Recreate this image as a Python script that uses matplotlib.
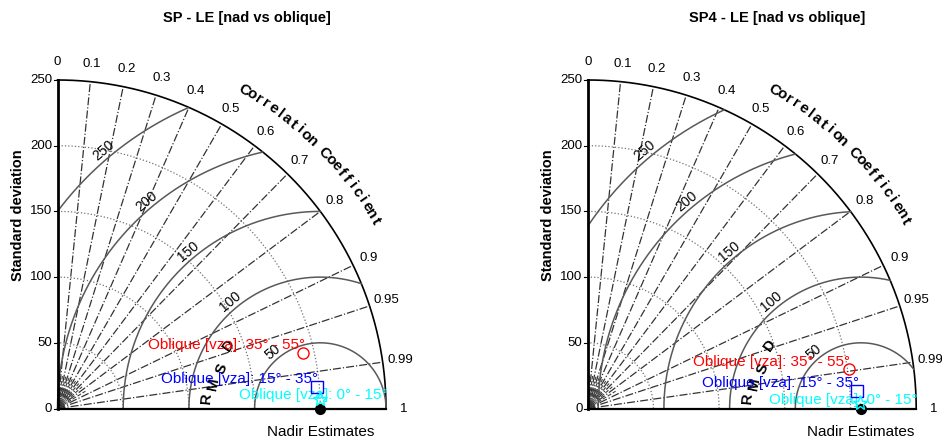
import numpy as np
import matplotlib.pyplot as plt

plt.rcParams['font.family'] = ['Liberation Sans', 'DejaVu Sans']

# ---- data ----
titles = ['SP - LE [nad vs oblique]', 'SP4 - LE [nad vs oblique]']
ref_std = [200, 208]          # nadir estimates (reference)
series_names = ['Oblique [vza]: 35° - 55°',
                'Oblique [vza]: 15° - 35°',
                'Oblique [vza]: 0° - 15°']
std_left = [191.8, 198.0, 199.9]
corr_left = [0.9756, 0.9965, 0.9993]
std_right = [200.7, 205.6, 207.2]
corr_right = [0.989, 0.9978, 0.9998]

std_ticks = [0, 50, 100, 150, 200, 250]
corr_ticks = [0, 0.1, 0.2, 0.3, 0.4, 0.5, 0.6, 0.7, 0.8, 0.9, 0.95, 0.99, 1]
rms_ticks = [50, 100, 150, 200, 250]
rmax = 250

colors = ['red', 'blue', 'cyan']
markers = ['o', 's', '*']

# pixel layout
W, H = 942, 440
scale = 1.314                   # px per std unit
origins = [(57.5, 408.5), (587.7, 408.5)]
xlim = (-43, 268)
ylim = (-23, 305)

fig = plt.figure(figsize=(W / 100, H / 100), dpi=100)


def draw_taylor(ax, ref, stds, corrs, title):
    th = np.linspace(0, np.pi / 2, 300)
    # std circles
    for s in std_ticks[1:-1]:
        ax.plot(s * np.cos(th), s * np.sin(th), ls=':', color='0.45', lw=0.9)
    ax.plot(rmax * np.cos(th), rmax * np.sin(th), color='k', lw=1.2)
    # correlation lines
    for c in corr_ticks[1:-1]:
        a = np.arccos(c)
        ax.plot([0, rmax * np.cos(a)], [0, rmax * np.sin(a)],
                ls='-.', color='0.2', lw=0.9)
    for c in np.arange(0.05, 0.9, 0.1):
        a = np.arccos(c)
        ax.plot([0, 25 * np.cos(a)], [0, 25 * np.sin(a)],
                ls='--', color='0.25', lw=0.8)
    # RMSD circles around the reference
    t = np.linspace(0, np.pi, 800)
    for r in rms_ticks:
        x = ref + r * np.cos(t)
        y = r * np.sin(t)
        bad = (x < 0) | (x ** 2 + y ** 2 > rmax ** 2)
        x[bad] = np.nan
        y[bad] = np.nan
        ax.plot(x, y, color='0.35', lw=1.1)
        a = np.deg2rad(130)
        ax.text(ref + (r + 6) * np.cos(a), (r + 6) * np.sin(a), str(r),
                rotation=40, ha='center', va='center', fontsize=10)
    # RMSD letters
    offs = [(-86.5, 8), (-81.4, 18.5), (-75, 30.5), (-69.5, 48.3)]
    rots = [85, 78, 68, 55]
    for ch, (dx, dy), rt in zip('RMSD', offs, rots):
        ax.text(ref + dx, dy, ch, rotation=rt, ha='center', va='center',
                fontsize=11, fontweight='bold')
    # axes lines
    ax.plot([0, 0], [0, rmax], color='k', lw=2)
    ax.plot([0, rmax], [0, 0], color='k', lw=1.6)
    # std tick labels
    for s in std_ticks:
        ax.text(-4, s, str(s), ha='right', va='center', fontsize=9.5)
        ax.plot([-2.5, 0], [s, s], color='k', lw=0.8)
    # correlation tick labels
    for c in corr_ticks:
        a = np.arccos(c)
        ax.text(263.5 * np.cos(a), 263.5 * np.sin(a), f'{c:g}',
                ha='center', va='center', fontsize=9.5)
    # curved "Correlation Coefficient"
    txt = 'Correlation Coefficient'
    angs = np.linspace(59.6, 30.5, len(txt))
    for ch, ag in zip(txt, angs):
        a = np.deg2rad(ag)
        ax.text(281 * np.cos(a), 281 * np.sin(a), ch, rotation=ag - 90,
                ha='center', va='center', fontsize=11, fontweight='bold')
    # reference point
    ax.plot([ref], [0], 'o', color='k', mfc='k', ms=7, zorder=5)
    # series
    for i, (s, c) in enumerate(zip(stds, corrs)):
        x = s * c
        y = s * np.sqrt(1 - c ** 2)
        ms = 11 if markers[i] == '*' else 8
        ax.plot([x], [y], markers[i], mfc='none', mec=colors[i], ms=ms,
                mew=1.0, zorder=6)
        if i < 2:
            ax.text(x + 1, y + 6, series_names[i], color=colors[i],
                    ha='right', va='center', fontsize=11)
        else:
            ax.text(rmax + 1, y + 2.5, series_names[i], color=colors[i],
                    ha='right', va='center', fontsize=11)
    # titles/labels
    ax.text(144, 297, title, ha='center', va='center', fontsize=10.5,
            fontweight='bold')
    ax.text(ref, -18, 'Nadir Estimates', ha='center', va='center', fontsize=11)
    ax.text(-30, 147, 'Standard deviation', rotation=90, ha='center',
            va='center', fontsize=10.5, fontweight='bold')
    ax.set_xlim(*xlim)
    ax.set_ylim(*ylim)
    ax.axis('off')


data = [(std_left, corr_left), (std_right, corr_right)]
for k in range(2):
    ox, oy = origins[k]
    left = ox + xlim[0] * scale
    bottom = (H - oy) + ylim[0] * scale
    w = (xlim[1] - xlim[0]) * scale
    h = (ylim[1] - ylim[0]) * scale
    ax = fig.add_axes([left / W, bottom / H, w / W, h / H])
    draw_taylor(ax, ref_std[k], data[k][0], data[k][1], titles[k])

fig.savefig('out.png', dpi=100)
